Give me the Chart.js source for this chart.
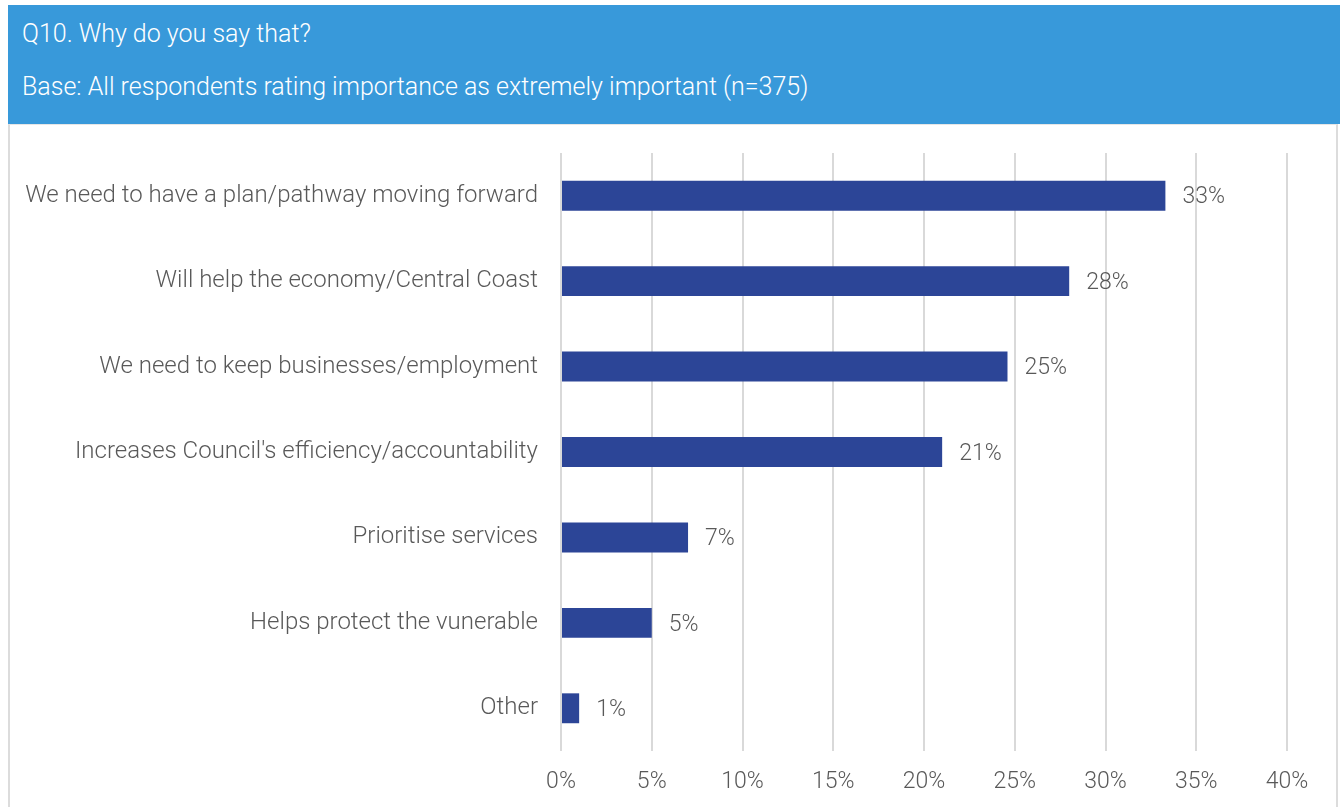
<!DOCTYPE html>
<html>
<head>
<meta charset="utf-8">
<title>Q10. Why do you say that?</title>
<script src="https://cdn.jsdelivr.net/npm/chart.js@4.4.1/dist/chart.umd.min.js"></script>
<style>
  html, body { margin: 0; padding: 0; background: #fff; }
  body { width: 1340px; height: 807px; position: relative; overflow: hidden; font-family: Roboto, 'Noto Sans', sans-serif; }
  .header {
    position: absolute; left: 8px; top: 5px; width: 1332px; height: 119px;
    background: #3899DA; color: #fff; font-weight: 300;
  }
  .header .q { position: absolute; left: 14px; top: 14px; font-size: 25px; }
  .header .b { position: absolute; left: 14px; top: 67px; font-size: 25px; }
  .panel {
    position: absolute; left: 8px; top: 124px; width: 1326px; height: 683px;
    border-left: 2px solid #dcdcdc; border-right: 2px solid #dcdcdc; border-top: 1px solid #e6e6e6;
  }
  #chartWrap { position: absolute; left: 0; top: 0; width: 1340px; height: 807px; }
</style>
</head>
<body>
<div class="header">
  <div class="q">Q10. Why do you say that?</div>
  <div class="b">Base: All respondents rating importance as extremely important (n=375)</div>
</div>
<div class="panel"></div>
<div id="chartWrap"><canvas id="barChart" width="1340" height="807"></canvas></div>

<script>
// ============ DATA ============
const categories = [
  'We need to have a plan/pathway moving forward',
  'Will help the economy/Central Coast',
  'We need to keep businesses/employment',
  "Increases Council's efficiency/accountability",
  'Prioritise services',
  'Helps protect the vunerable',
  'Other'
];
const values = [33.3, 28.0, 24.6, 21.0, 7.0, 5.0, 1.0];
const valueLabels = ['33%', '28%', '25%', '21%', '7%', '5%', '1%'];
const xTicks = [0, 5, 10, 15, 20, 25, 30, 35, 40];

const FONT = 'Roboto, "Noto Sans", sans-serif';

// value labels at the end of each bar
const barLabels = {
  id: 'barLabels',
  afterDatasetsDraw(chart) {
    const ctx = chart.ctx;
    const meta = chart.getDatasetMeta(0);
    ctx.save();
    ctx.font = '300 23px ' + FONT;
    ctx.fillStyle = '#595959';
    ctx.textAlign = 'left';
    ctx.textBaseline = 'middle';
    meta.data.forEach((bar, i) => {
      ctx.fillText(valueLabels[i], bar.x + 17, bar.y + 2);
    });
    ctx.restore();
  }
};

function initBarChart() {
  const ctx = document.getElementById('barChart').getContext('2d');
  window.barChartInstance = new Chart(ctx, {
    type: 'bar',
    data: {
      labels: categories,
      datasets: [{
        data: values,
        backgroundColor: '#2C4597',
        borderWidth: 0,
        barPercentage: 0.35,
        categoryPercentage: 1
      }]
    },
    options: {
      indexAxis: 'y',
      responsive: false,
      animation: false,
      layout: { padding: { top: 153, right: 53, left: 0, bottom: 0 } },
      plugins: {
        legend: { display: false },
        tooltip: { enabled: false }
      },
      scales: {
        x: {
          min: 0,
          max: 40,
          afterBuildTicks: axis => { axis.ticks = xTicks.map(v => ({ value: v })); },
          afterFit: axis => { axis.height = 56; },
          border: { display: false },
          grid: { color: '#d9d9d9', lineWidth: 2, drawTicks: false },
          ticks: {
            padding: 17,
            color: '#595959',
            font: { family: FONT, size: 23, weight: '300' },
            callback: v => v + '%'
          }
        },
        y: {
          afterFit: axis => { axis.width = 561; },
          border: { display: false },
          grid: { display: false, drawTicks: false },
          ticks: {
            padding: 23,
            color: '#595959',
            font: { family: FONT, size: 24, weight: '300' }
          }
        }
      }
    },
    plugins: [barLabels]
  });
}

document.addEventListener('DOMContentLoaded', initBarChart);
</script>
</body>
</html>
